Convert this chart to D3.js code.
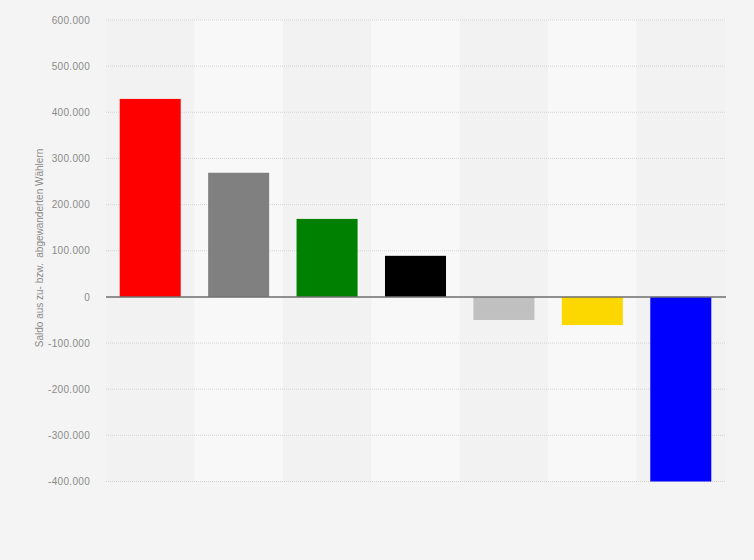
<!DOCTYPE html>
<html><head><meta charset="utf-8">
<script src="https://cdn.jsdelivr.net/npm/d3@7"></script>
<style>body{margin:0;background:#f4f4f4;}svg{display:block;font-family:Arial,"Liberation Sans",sans-serif;}</style>
</head><body><svg id="c" width="754" height="560"></svg>
<script>
const categories = ["SPD", "Nichtwähler", "Grüne", "CDU/CSU", "Andere", "FDP", "AfD"];
const values = [429000, 269000, 169000, 89000, -50000, -61000, -400000];
const colors = ["#ff0000", "#808080", "#008000", "#000000", "#c0c0c0", "#fcd800", "#0000ff"];
const yTicks = [-400000, -300000, -200000, -100000, 0, 100000, 200000, 300000, 400000, 500000, 600000];
const yTitle = "Saldo aus zu- bzw.  abgewanderten Wählern";

(function () {
const svg = d3.select("#c");
const pL = 106, pR = 725, pT = 20, pB = 481.5;
const x = d3.scaleBand().domain(categories).range([pL, pR]).paddingInner(0.31).paddingOuter(0.155);
const xb = d3.scaleBand().domain(categories).range([pL, pR]).padding(0);
const y = d3.scaleLinear().domain([-400000, 600000]).range([pB, pT]);

svg.append("rect").attr("width", 754).attr("height", 560).attr("fill", "#f4f4f4");
svg.selectAll(".band").data(categories).enter().append("rect")
  .attr("x", d => xb(d)).attr("y", pT).attr("width", xb.bandwidth()).attr("height", pB - pT)
  .attr("fill", (d, i) => i % 2 ? "#f8f8f8" : "#f2f2f2");

const fmt = v => d3.format(",")(v).replace(/,/g, ".").replace("−", "-");
const yAxis = d3.axisLeft(y).tickValues(yTicks).tickFormat(fmt).tickSize(0).tickPadding(0);
const g = svg.append("g").attr("transform", `translate(${pL - 16},0)`).call(yAxis);
g.select(".domain").remove();
g.selectAll("text").attr("fill", "#8a8a8a").attr("font-size", "10px").attr("letter-spacing", "0.3px")
  .attr("font-family", "Arial,'Liberation Sans',sans-serif");

svg.selectAll(".grid").data(yTicks.filter(t => t !== 0)).enter().append("line")
  .attr("x1", pL).attr("x2", pR).attr("y1", d => y(d)).attr("y2", d => y(d))
  .attr("stroke", "#d4d4d4").attr("stroke-width", 1).attr("stroke-dasharray", "1,1");

svg.selectAll(".bar").data(values).enter().append("rect")
  .attr("x", (d, i) => x(categories[i])).attr("width", x.bandwidth())
  .attr("y", d => y(Math.max(0, d))).attr("height", d => Math.abs(y(d) - y(0)))
  .attr("fill", (d, i) => colors[i]);

svg.append("line").attr("x1", pL).attr("x2", pR + 1).attr("y1", y(0)).attr("y2", y(0))
  .attr("stroke", "#6e6e6e").attr("stroke-width", 1.5);

svg.append("text").attr("transform", `translate(43,248) rotate(-90)`)
  .attr("text-anchor", "middle").attr("fill", "#8a8a8a").attr("font-size", "10px")
  .style("white-space", "pre").text(yTitle);
})();
</script></body></html>
